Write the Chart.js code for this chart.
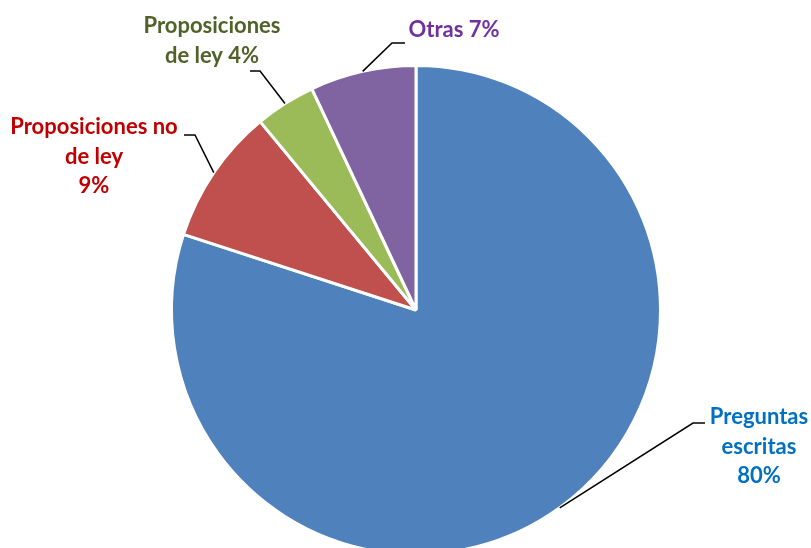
<!DOCTYPE html>
<html>
<head>
<meta charset="utf-8">
<script src="https://cdn.jsdelivr.net/npm/chart.js@4"></script>
<style>
  html, body { margin: 0; padding: 0; background: #fff; overflow: hidden; }
  #wrap { position: absolute; left: 0; top: 0; width: 811px; height: 620px; }
</style>
</head>
<body>
<div id="wrap"><canvas id="pieChart"></canvas></div>
<script>
const categories = ["Preguntas escritas", "Proposiciones no de ley", "Proposiciones de ley", "Otras"];
const shares = [80, 9, 4, 7];
const sliceColors = ["#4F81BD", "#C0504D", "#9BBB59", "#8064A2"];
const textColors = ["#0070C0", "#C00000", "#4F6228", "#7030A0"];
const labelLines = [
    ["Preguntas", "escritas", "80%"],
    ["Proposiciones no", "de ley", "9%"],
    ["Proposiciones", "de ley 4%"],
    ["Otras 7%"]
];

// where each label sits and how its leader bends (text center x, first baseline, elbow, end)
const labelLayout = [
    { x: 759, y: 424, elbow: [693, 423], end: [705, 423] },
    { x: 94, y: 134, elbow: [195, 135], end: [184, 135] },
    { x: 212, y: 33, elbow: [260, 71], end: [250, 71] },
    { x: 454, y: 37, elbow: [392, 43], end: [405, 43] }
];

const leaderLabels = {
    id: "leaderLabels",
    afterDatasetsDraw(chart) {
        const ctx = chart.ctx;
        const arcs = chart.getDatasetMeta(0).data;
        ctx.save();
        arcs.forEach((arc, i) => {
            const mid = (arc.startAngle + arc.endAngle) / 2;
            const sx = arc.x + Math.cos(mid) * arc.outerRadius;
            const sy = arc.y + Math.sin(mid) * arc.outerRadius;
            const lay = labelLayout[i];
            ctx.beginPath();
            ctx.moveTo(sx, sy);
            ctx.lineTo(lay.elbow[0], lay.elbow[1]);
            ctx.lineTo(lay.end[0], lay.end[1]);
            ctx.strokeStyle = "#000";
            ctx.lineWidth = 1.5;
            ctx.stroke();

            ctx.fillStyle = textColors[i];
            ctx.font = "bold 22px Lato";
            ctx.textAlign = "center";
            ctx.textBaseline = "alphabetic";
            labelLines[i].forEach((line, j) => {
                ctx.fillText(line, lay.x, lay.y + j * 29.5);
            });
        });
        ctx.restore();
    }
};

const pieChart = new Chart(document.getElementById("pieChart"), {
    type: "pie",
    data: {
        labels: categories,
        datasets: [{
            data: shares,
            backgroundColor: sliceColors,
            borderColor: "#ffffff",
            borderWidth: 3
        }]
    },
    options: {
        responsive: true,
        maintainAspectRatio: false,
        animation: false,
        layout: { padding: { top: 64, bottom: 64, left: 170, right: 149 } },
        plugins: {
            legend: { display: false },
            tooltip: { enabled: false }
        }
    },
    plugins: [leaderLabels]
});
</script>
</body>
</html>
